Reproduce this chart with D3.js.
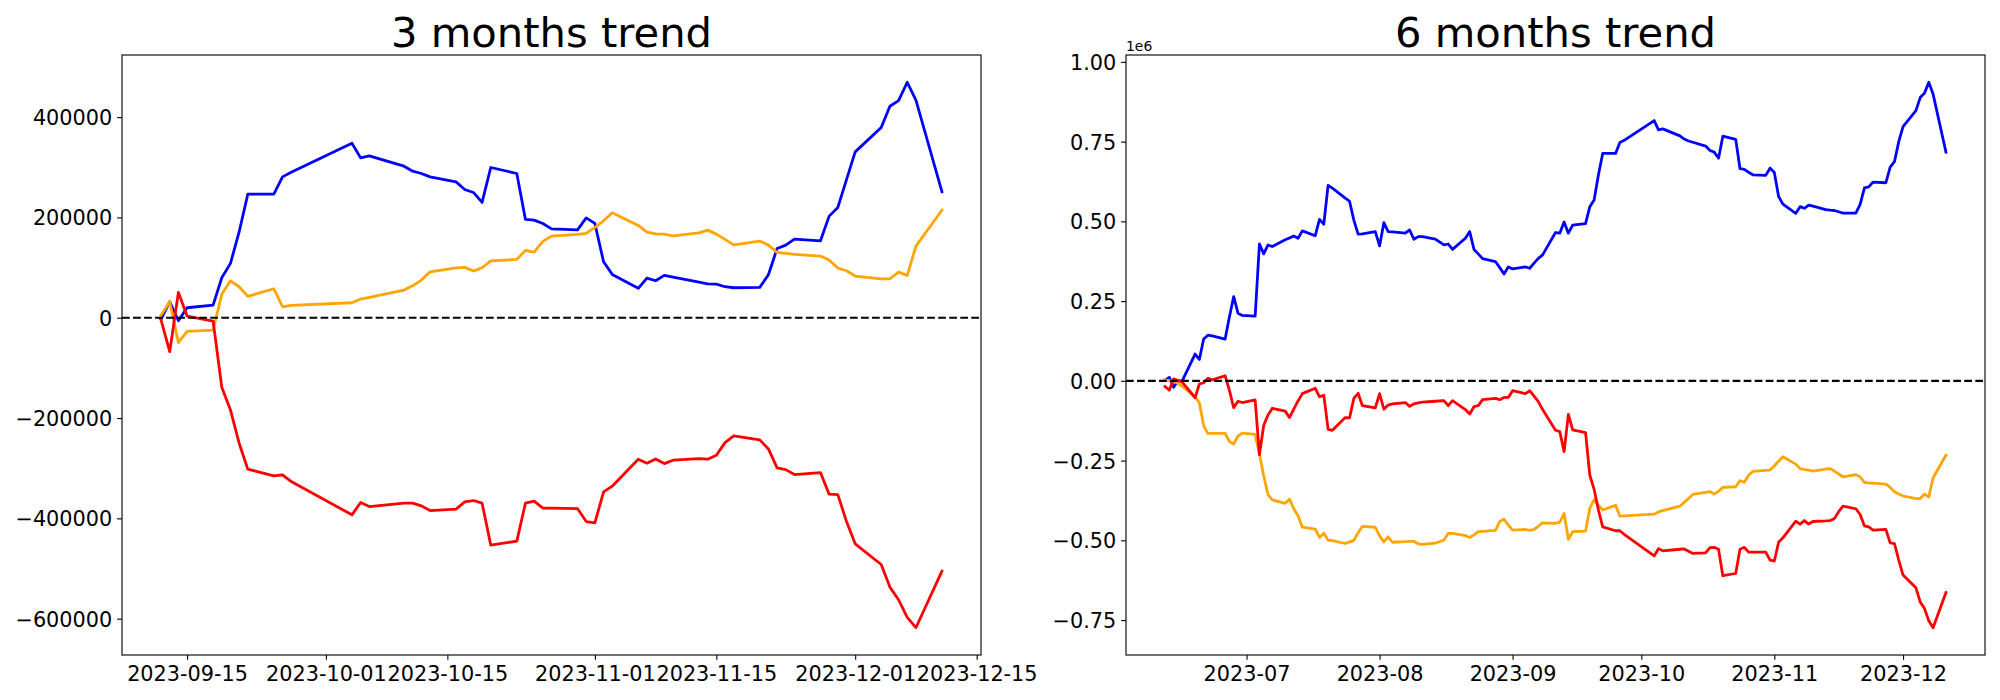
<!DOCTYPE html>
<html>
<head>
<meta charset="utf-8">
<script src="https://cdn.jsdelivr.net/npm/d3@7"></script>
<style>
body { margin: 0; background: #fff; }
text { font-family: "DejaVu Sans", sans-serif; }
</style>
</head>
<body>
<svg id="fig" width="2000" height="700"></svg>
<script>
//params
var FIG_W = 2000;
var FIG_H = 700;
var AX_TOP = 55;
var AX_BOTTOM = 655;
var TICK_LEN = 4.86;
var TICK_PAD = 4.86;
var TICK_FONT = 20.8;
var TITLE_FONT = 41.7;
var LINE_W = 2.78;

// trading days, 6 month window
var dates_6m = [
	"2023-06-12","2023-06-13","2023-06-14","2023-06-15","2023-06-16","2023-06-19","2023-06-20","2023-06-21","2023-06-22","2023-06-23",
	"2023-06-26","2023-06-27","2023-06-28","2023-06-29","2023-06-30",
	"2023-07-03","2023-07-04","2023-07-05","2023-07-06","2023-07-07","2023-07-10","2023-07-11","2023-07-12","2023-07-13","2023-07-14",
	"2023-07-17","2023-07-18","2023-07-19","2023-07-20","2023-07-21","2023-07-24","2023-07-25","2023-07-26","2023-07-27","2023-07-28","2023-07-31",
	"2023-08-01","2023-08-02","2023-08-03","2023-08-04","2023-08-07","2023-08-08","2023-08-09","2023-08-10","2023-08-11","2023-08-14",
	"2023-08-16","2023-08-17","2023-08-18","2023-08-21","2023-08-22","2023-08-23","2023-08-24","2023-08-25","2023-08-28","2023-08-29","2023-08-30","2023-08-31",
	"2023-09-01","2023-09-04","2023-09-05","2023-09-06","2023-09-07","2023-09-08","2023-09-11","2023-09-12","2023-09-13","2023-09-14","2023-09-15",
	"2023-09-18","2023-09-19","2023-09-20","2023-09-21","2023-09-22","2023-09-25","2023-09-26","2023-09-27",
	"2023-10-04","2023-10-05","2023-10-06","2023-10-10","2023-10-11","2023-10-12","2023-10-13","2023-10-16","2023-10-17","2023-10-18","2023-10-19","2023-10-20",
	"2023-10-23","2023-10-24","2023-10-25","2023-10-26","2023-10-27","2023-10-30","2023-10-31",
	"2023-11-01","2023-11-02","2023-11-03","2023-11-06","2023-11-07","2023-11-08","2023-11-09","2023-11-10","2023-11-13","2023-11-14","2023-11-15","2023-11-16","2023-11-17",
	"2023-11-20","2023-11-21","2023-11-22","2023-11-23","2023-11-24","2023-11-27","2023-11-28","2023-11-29","2023-11-30",
	"2023-12-01","2023-12-04","2023-12-05","2023-12-06","2023-12-07","2023-12-08","2023-12-11"
];
// 3 month window is the tail of the same calendar
var dates_3m = dates_6m.slice(dates_6m.indexOf("2023-09-12"));

var blue_3m = [
	-3000, 31900, -6000, 19900, 25300, 79700, 108400, 171000, 246400, 246400, 280900, 290000,
	348000, 318700, 322700, 302200, 292200, 287600, 280900, 270900, 255800, 249800, 229900, 299600, 287600, 196000, 194600, 188000, 177300, 175300, 199200,
	188000, 111600, 86400, 58600, 79100, 73700, 84400, 81000, 71000, 67700, 67100, 61800, 59800, 60600, 85700, 138200, 144800, 156800, 153400, 202600, 219900, 275300,
	330700, 379300, 421700, 433000, 469500, 433700, 251000
];
var orange_3m = [
	4800, 31900, -49800, -27100, -24500, 46600, 73700, 61800, 42600, 57800, 21900, 24700,
	29900, 37200, 40600, 55200, 63700, 75000, 91600, 99600, 100400, 93000, 99600, 113500, 116300, 134300, 130900, 152200, 162700, 166100, 168100,
	180100, 193200, 209200, 184000, 170700, 167300, 166700, 163300, 169300, 174700, 166700, 156200, 145400, 152800, 144800, 130300, 128300, 126300, 122900, 114900, 99000, 93600,
	83100, 77700, 77700, 91000, 84400, 142800, 214500
];
var red_3m = [
	-4600, -67700, 50600, 3400, -6600, -138700, -183900, -250200, -302000, -315300, -313300, -326700,
	-393000, -368500, -376500, -369700, -369700, -375100, -384400, -381700, -367100, -364500, -369700, -453400, -445400, -369700, -365700, -379700, -379700, -380500, -406400,
	-409000, -347200, -335900, -282100, -290000, -281500, -290800, -284100, -280900, -282100, -274100, -249000, -235700, -243600, -261600, -299400, -302800, -312700, -308800, -351800, -352600, -406400,
	-450800, -492000, -537100, -562300, -597600, -618100, -505200
];

var blue_6m = [
	2000, 11000, -20000, 0, 0, 84000, 67000, 131000, 143000, 141000, 131000, 200000, 264000, 212000, 205000,
	203000, 429000, 398000, 426000, 421000, 442000, 448000, 454000, 447000, 470000, 455000, 506000, 491000, 613000, 604000, 573000, 563000, 504000, 460000, 461000, 468000,
	423000, 496000, 468000, 467000, 463000, 473000, 444000, 452000, 452000, 444000, 426000, 429000, 412000, 447000, 468000, 412000, 398000, 383000, 374000, 355000, 335000, 357000,
	351000, 357000, 353000, 369000, 384000, 395000, 465000, 463000, 498000, 463000, 488000, 493000, 546000, 567000, 645000, 713000, 713000, 747000, 754000,
	816000, 787000, 790000, 768000, 758000, 752000, 748000, 736000, 722000, 717000, 698000, 767000, 757000, 665000, 663000, 654000, 646000, 644000, 667000,
	653000, 578000, 554000, 525000, 546000, 541000, 551000, 548000, 537000, 535000, 534000, 530000, 526000, 526000, 553000, 605000, 608000, 623000, 621000, 670000, 687000, 750000,
	797000, 847000, 888000, 902000, 936000, 899000, 717000
];
var orange_6m = [
	3000, 1000, -1000, -8000, -17000, -50000, -69000, -141000, -165000, -165000, -165000, -190000, -198000, -173000, -164000,
	-168000, -230000, -298000, -357000, -373000, -384000, -371000, -401000, -423000, -459000, -465000, -491000, -478000, -499000, -501000, -510000, -505000, -500000, -476000, -456000, -459000,
	-486000, -505000, -489000, -506000, -504000, -503000, -503000, -511000, -513000, -509000, -499000, -478000, -478000, -485000, -491000, -483000, -473000, -472000, -469000, -441000, -434000, -452000,
	-468000, -466000, -469000, -466000, -456000, -445000, -447000, -443000, -416000, -497000, -473000, -471000, -400000, -372000, -390000, -405000, -390000, -424000, -423000,
	-418000, -411000, -407000, -393000, -381000, -369000, -356000, -350000, -347000, -355000, -346000, -334000, -332000, -313000, -318000, -296000, -284000, -281000, -280000,
	-266000, -252000, -238000, -261000, -275000, -278000, -280000, -283000, -277000, -275000, -283000, -292000, -301000, -294000, -301000, -318000, -320000, -321000, -324000, -334000, -348000, -355000,
	-361000, -369000, -369000, -355000, -364000, -304000, -233000
];
var red_6m = [
	-18000, -29000, 6000, 1000, -4000, -53000, -10000, -6000, 8000, 3000, 16000, -30000, -84000, -64000, -68000,
	-60000, -231000, -139000, -107000, -86000, -95000, -115000, -89000, -63000, -40000, -23000, -50000, -45000, -152000, -155000, -115000, -116000, -55000, -39000, -78000, -85000,
	-40000, -89000, -76000, -72000, -68000, -80000, -72000, -69000, -67000, -64000, -62000, -78000, -62000, -90000, -104000, -81000, -78000, -59000, -55000, -59000, -52000, -52000,
	-31000, -40000, -31000, -48000, -65000, -90000, -155000, -159000, -222000, -105000, -154000, -162000, -296000, -340000, -405000, -458000, -470000, -470000, -481000,
	-549000, -526000, -533000, -528000, -527000, -534000, -541000, -539000, -523000, -522000, -528000, -611000, -604000, -528000, -522000, -537000, -537000, -537000, -562000,
	-565000, -506000, -492000, -440000, -449000, -438000, -449000, -441000, -439000, -438000, -432000, -410000, -393000, -401000, -419000, -455000, -458000, -468000, -466000, -508000, -510000, -562000,
	-609000, -649000, -693000, -714000, -752000, -774000, -664000
];

var xticks_3m = ["2023-09-15", "2023-10-01", "2023-10-15", "2023-11-01", "2023-11-15", "2023-12-01", "2023-12-15"];
var yticks_3m = [-600000, -400000, -200000, 0, 200000, 400000];
var xticks_6m = ["2023-07-01", "2023-08-01", "2023-09-01", "2023-10-01", "2023-11-01", "2023-12-01"];
var yticks_6m = [-750000, -500000, -250000, 0, 250000, 500000, 750000, 1000000];

var parse_day = d3.utcParse("%Y-%m-%d");

function minus(s)
{
	return s.replace("-", "\u2212");
}

function padded(ext)
{
	var pad = (ext[1] - ext[0]) * 0.05;
	return [ext[0] - pad, ext[1] + pad];
}

function draw_panel(svg, p)
{
	var days = p.dates.map(parse_day);
	var x_dom = padded(d3.extent(days, function(d){return +d;}));
	var x = d3.scaleUtc()
		.domain([new Date(x_dom[0]), new Date(x_dom[1])])
		.range([p.left, p.right]);
	var all_vals = [0];
	p.series.forEach(function(s){ all_vals = all_vals.concat(s.values); });
	var y = d3.scaleLinear()
		.domain(padded(d3.extent(all_vals)))
		.range([AX_BOTTOM, AX_TOP]);

	var g = svg.append("g");

	var line = d3.line()
		.x(function(d, i){return x(days[i]);})
		.y(function(d){return y(d);});
	p.series.forEach(function(s){
		g.append("path")
			.attr("d", line(s.values))
			.attr("fill", "none")
			.attr("stroke", s.color)
			.attr("stroke-width", LINE_W)
			.attr("stroke-linejoin", "round")
			.attr("stroke-linecap", "square");
	});

	// zero reference
	g.append("line")
		.attr("x1", p.left)
		.attr("x2", p.right)
		.attr("y1", y(0))
		.attr("y2", y(0))
		.attr("stroke", "black")
		.attr("stroke-width", 2.08)
		.attr("stroke-dasharray", "7.7 3.33");

	var x_axis = d3.axisBottom(x)
		.tickValues(p.xticks.map(parse_day))
		.tickFormat(d3.utcFormat(p.xfmt))
		.tickSize(TICK_LEN)
		.tickSizeOuter(0)
		.tickPadding(TICK_PAD);
	var y_axis = d3.axisLeft(y)
		.tickValues(p.yticks)
		.tickFormat(p.yfmt)
		.tickSize(TICK_LEN)
		.tickSizeOuter(0)
		.tickPadding(TICK_PAD);

	var gx = g.append("g")
		.attr("transform", "translate(0," + AX_BOTTOM + ")")
		.call(x_axis);
	var gy = g.append("g")
		.attr("transform", "translate(" + p.left + ",0)")
		.call(y_axis);
	[gx, gy].forEach(function(a){
		a.select(".domain").remove();
		a.attr("font-family", "DejaVu Sans").attr("font-size", TICK_FONT);
		a.selectAll(".tick line").attr("stroke", "black").attr("stroke-width", 1.11);
		a.selectAll(".tick text").attr("fill", "black");
	});
	gx.selectAll(".tick text").attr("dy", "0.78em");
	gy.selectAll(".tick text").attr("dy", "0.36em");

	// spines
	g.append("rect")
		.attr("x", p.left)
		.attr("y", AX_TOP)
		.attr("width", p.right - p.left)
		.attr("height", AX_BOTTOM - AX_TOP)
		.attr("fill", "none")
		.attr("stroke", "black")
		.attr("stroke-width", 1.11);

	g.append("text")
		.attr("x", (p.left + p.right) / 2)
		.attr("y", AX_TOP - 8.33)
		.attr("text-anchor", "middle")
		.attr("font-size", TITLE_FONT)
		.text(p.title);

	if (p.offset)
	{
		g.append("text")
			.attr("x", p.left)
			.attr("y", AX_TOP - 4.3)
			.attr("font-size", 13.9)
			.text(p.offset);
	}
}

var svg = d3.select("#fig");
svg.append("rect").attr("width", FIG_W).attr("height", FIG_H).attr("fill", "white");

draw_panel(svg, {
	title: "3 months trend",
	left: 122, right: 981,
	dates: dates_3m,
	series: [
		{values: blue_3m, color: "blue"},
		{values: orange_3m, color: "orange"},
		{values: red_3m, color: "red"}
	],
	xticks: xticks_3m,
	xfmt: "%Y-%m-%d",
	yticks: yticks_3m,
	yfmt: function(d){return minus(d3.format("d")(d));}
});

draw_panel(svg, {
	title: "6 months trend",
	left: 1126, right: 1985,
	dates: dates_6m,
	series: [
		{values: blue_6m, color: "blue"},
		{values: orange_6m, color: "orange"},
		{values: red_6m, color: "red"}
	],
	xticks: xticks_6m,
	xfmt: "%Y-%m",
	yticks: yticks_6m,
	yfmt: function(d){return minus(d3.format(".2f")(d / 1e6));},
	offset: "1e6"
});
</script>
</body>
</html>
